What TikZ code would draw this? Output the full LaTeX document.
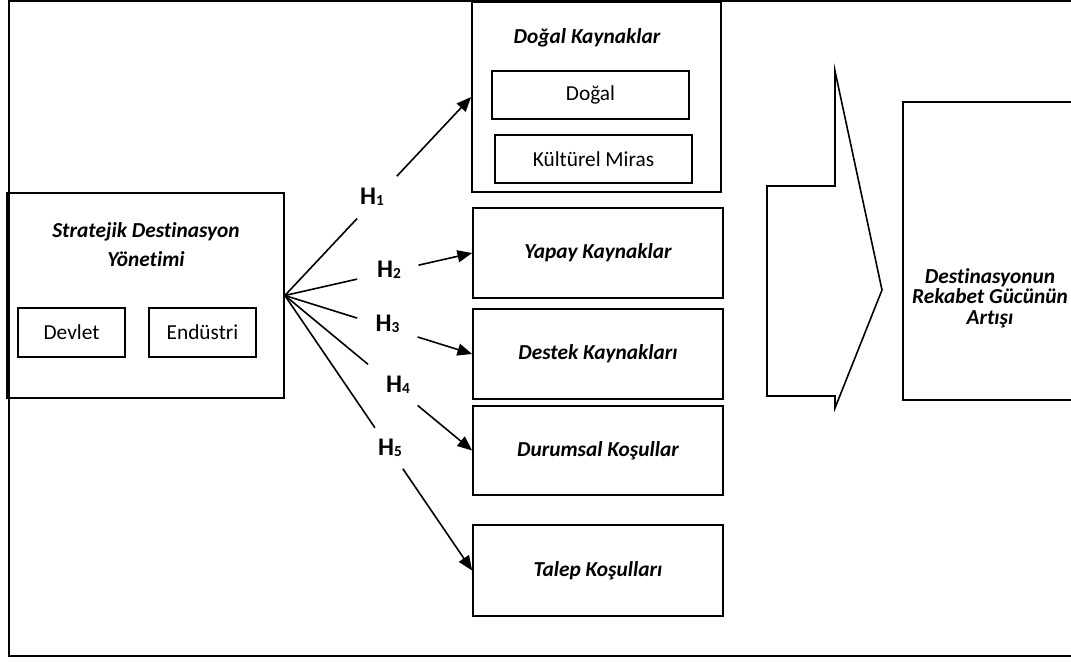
\documentclass[tikz,border=0pt]{standalone}
\usepackage{fontspec}
\setmainfont{Carlito}[Ligatures={NoCommon,NoContextual}]
\usetikzlibrary{arrows.meta}
% small digit set on the baseline after an H
\newcommand\hypidx[1]{{\fontsize{11.5}{11.5}\selectfont\raisebox{-0.6pt}{#1}}}
\begin{document}
\begin{tikzpicture}[x=0.75pt,y=-0.75pt,
  sized/.style 2 args={minimum width=#1*0.75pt, minimum height=#2*0.75pt},
  frame/.style={draw, line width=1.3pt},
  plainbox/.style={draw, line width=1.3pt, inner sep=0pt, align=center,
    font=\fontsize{16}{18}\selectfont},
  titlebox/.style={plainbox, font=\fontsize{16}{18}\selectfont\bfseries\itshape},
  title/.style={inner sep=0pt, align=center},
  hyp/.style={inner sep=0pt, font=\fontsize{19}{20}\selectfont\bfseries},
  link/.style={line width=1.2pt},
  linkarrow/.style={line width=1.2pt, -{Triangle[length=11pt,width=9pt]}}]
\useasboundingbox (0,0) rectangle (1071,661);
\clip (0,0) rectangle (1071,661);

% outer frame
\draw[frame] (9,1) rectangle (1100,656);

% strategic destination management
\node[plainbox, sized={277}{205}] (sdy) at (145.5,295.5) {};
\node[title, font=\fontsize{16}{22}\selectfont\bfseries\itshape] (sdyt) at (146,244.5)
  {Stratejik Destinasyon\\Yönetimi};
\node[plainbox, sized={107}{49}] (dev) at (71.5,332.5) {Devlet};
\node[plainbox, sized={107}{49}] (end) at (202.5,332.5) {Endüstri};

% resource groups
\node[plainbox, sized={249}{190}] (dk) at (596.5,97) {};
\node[title, font=\fontsize{16}{18}\selectfont\bfseries\itshape] (dkt) at (587,38) {Doğal Kaynaklar};
\node[plainbox, sized={197}{48}] (dog) at (590.5,95) {Doğal};
\node[plainbox, sized={197}{48}] (kul) at (593.5,159) {Kültürel Miras};
\node[titlebox, sized={250}{90}] (yk) at (598,253) {Yapay Kaynaklar};
\node[titlebox, sized={250}{90}] (dsk) at (598,354) {Destek Kaynakları};
\node[titlebox, sized={250}{89}] (dur) at (598,450.5) {Durumsal Koşullar};
\node[titlebox, sized={250}{91}] (tal) at (598,570.5) {Talep Koşulları};

% large block arrow
\draw[line width=1.2pt, line join=miter]
  (767,186) -- (835,186) -- (835,71) -- (882,290) -- (835,408) -- (835,396) -- (767,396) -- cycle;

% outcome
\node[plainbox, sized={197}{298}] (out) at (1001.5,251) {};
\node[title, font=\fontsize{16}{15.5}\selectfont\bfseries\itshape] (outt) at (990,298)
  {Destinasyonun\\Rekabet Gücünün\\Artışı};

% hypotheses
\path (sdy.east) -- (dk.west)  coordinate[pos=0.388] (h1a) coordinate[pos=0.601] (h1b);
\path (sdy.east) -- (yk.west)  coordinate[pos=0.386] (h2a) coordinate[pos=0.714] (h2b);
\path (sdy.east) -- (dsk.west) coordinate[pos=0.386] (h3a) coordinate[pos=0.709] (h3b);
\path (sdy.east) -- (dur.west) coordinate[pos=0.444] (h4a) coordinate[pos=0.709] (h4b);
\path (sdy.east) -- (tal.west) coordinate[pos=0.481] (h5a) coordinate[pos=0.630] (h5b);

\draw[link] (sdy.east) -- (h1a);
\draw[link] (sdy.east) -- (h2a);
\draw[link] (sdy.east) -- (h3a);
\draw[link] (sdy.east) -- (h4a);
\draw[link] (sdy.east) -- (h5a);
\draw[linkarrow] (h1b) -- (dk.west);
\draw[linkarrow] (h2b) -- (yk.west);
\draw[linkarrow] (h3b) -- (dsk.west);
\draw[linkarrow] (h4b) -- (dur.west);
\draw[linkarrow] (h5b) -- (tal.west);

\node[hyp] (h1) at (372,197) {H\hypidx{1}};
\node[hyp] (h2) at (389,269.5) {H\hypidx{2}};
\node[hyp] (h3) at (387.5,324) {H\hypidx{3}};
\node[hyp] (h4) at (398,385) {H\hypidx{4}};
\node[hyp] (h5) at (390,447.5) {H\hypidx{5}};
\end{tikzpicture}
\end{document}
